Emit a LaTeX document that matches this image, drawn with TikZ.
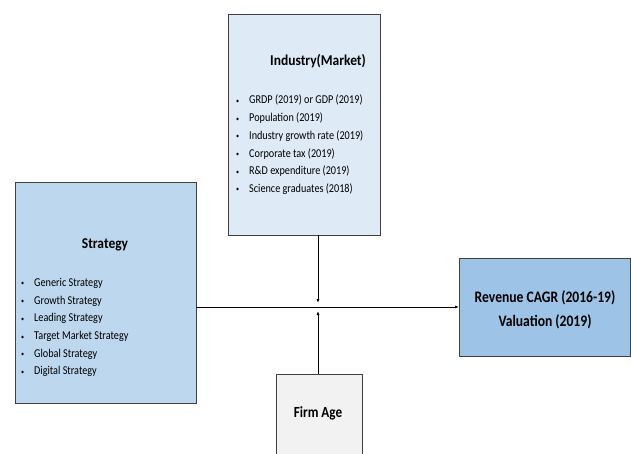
\documentclass[tikz,border=0pt]{standalone}
\usepackage{fontspec}
\setmainfont{Carlito}
\newfontfamily\condA[FakeStretch=0.85]{Carlito}
\newfontfamily\condB[FakeStretch=0.9]{Carlito}
\usetikzlibrary{arrows.meta}
\definecolor{indfill}{HTML}{DEEAF6}
\definecolor{strfill}{HTML}{BDD7EE}
\definecolor{revfill}{HTML}{9DC3E6}
\definecolor{agefill}{HTML}{F2F2F2}
\definecolor{edge}{HTML}{404040}
\tikzset{
  boxsolid/.style={draw=edge, line width=0.5pt},
  title/.style={font=\condB\fontsize{15}{17}\selectfont\bfseries, inner sep=0pt},
  blist/.style={font=\condA\fontsize{12}{17.7}\selectfont, align=left, anchor=north west, inner sep=0pt},
  conn/.style={draw=black, line width=0.8pt, -{Latex[length=4pt,width=3pt]}}
}
\newcommand{\bl}[1]{\makebox[13pt][l]{\raisebox{0.5pt}{\scalebox{0.6}{\textbullet}}}#1}
\begin{document}
\begin{tikzpicture}[x=1pt,y=-1pt]
\useasboundingbox (0,0) rectangle (631,453);
% boxes
\fill[indfill] (228,14) rectangle (380,235);
\draw[boxsolid] (228,14) rectangle (380,235);
\node[title] (indt) at (318,61) {Industry(Market)};
\node[blist] (indl) at (236,95) {\bl{GRDP (2019) or GDP (2019)}\\ \bl{Population (2019)}\\ \bl{Industry growth rate (2019)}\\ \bl{Corporate tax (2019)}\\ \bl{R\&D expenditure (2019)}\\ \bl{Science graduates (2018)}};
\coordinate (indb) at (318,235);

\fill[strfill] (15,182) rectangle (196,403);
\draw[boxsolid] (15,182) rectangle (196,403);
\node[title] (strt) at (105,245) {Strategy};
\node[blist] (strl) at (21,278) {\bl{Generic Strategy}\\ \bl{Growth Strategy}\\ \bl{Leading Strategy}\\ \bl{Target Market Strategy}\\ \bl{Global Strategy}\\ \bl{Digital Strategy}};
\coordinate (strr) at (196,307);

\fill[revfill] (459,258) rectangle (630,356);
\draw[boxsolid] (459,258) rectangle (630,356);
\node[title, align=center, font=\condA\fontsize{16}{24}\selectfont\bfseries] (rev) at (545,310) {Revenue CAGR (2016-19)\\Valuation (2019)};
\coordinate (revl) at (459,307);

\fill[agefill] (276,374) rectangle (362,470);
\draw[boxsolid] (276,470) -- (276,374) -- (362,374) -- (362,470);
\node[title, font=\condA\fontsize{15.5}{17}\selectfont\bfseries] (age) at (318,413) {Firm Age};
\coordinate (aget) at (318,374);

% connectors
\coordinate (midtop) at (318,303);
\coordinate (midbot) at (318,311);
\draw[conn] (strr) -- (revl);
\draw[conn] (indb) -- (midtop);
\draw[conn] (aget) -- (midbot);
\end{tikzpicture}
\end{document}
